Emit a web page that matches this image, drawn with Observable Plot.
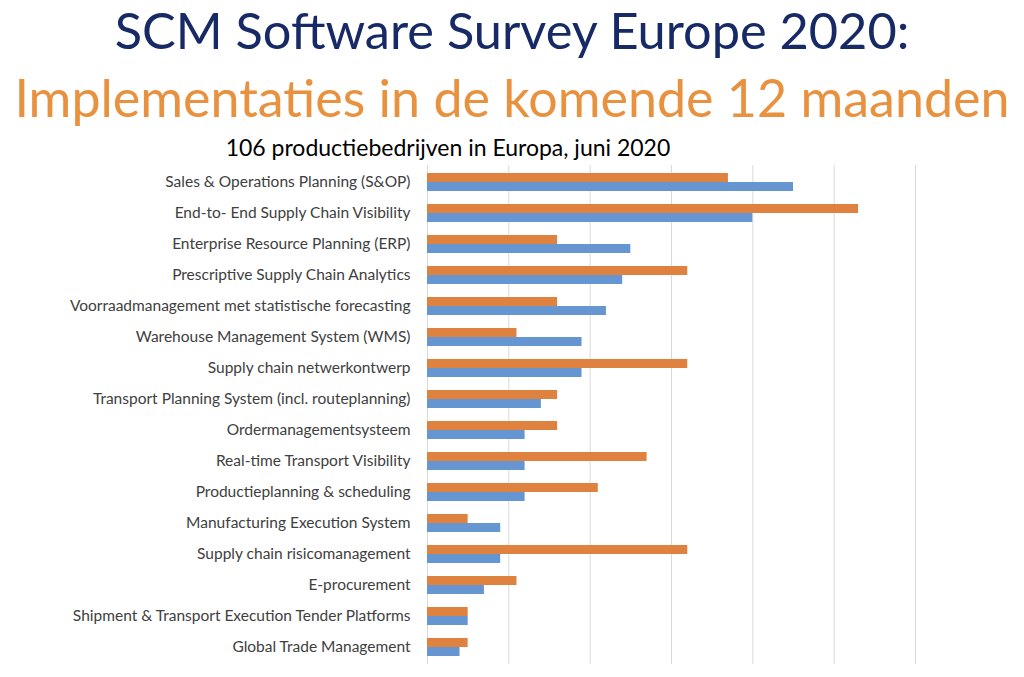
<!DOCTYPE html>
<html><head><meta charset="utf-8">
<script src="https://cdn.jsdelivr.net/npm/d3@7"></script>
<script src="https://cdn.jsdelivr.net/npm/@observablehq/plot@0.6"></script>
<style>
body{margin:0;background:#fff;font-family:Lato,sans-serif;}
#wrap{position:relative;width:1024px;height:677px;overflow:hidden;background:#fff}
.t{position:absolute;left:0;width:1024px;text-align:center;line-height:1;white-space:nowrap;font-family:Lato,sans-serif}
</style></head><body>
<div id="wrap">
<div class="t" id="t1" style="top:5px;font-size:50.5px;color:#172A66">SCM Software Survey Europe 2020:</div>
<div class="t" id="t2" style="top:71px;font-size:52px;color:#E8913F">Implementaties in de komende 12 maanden</div>
<div class="t" id="t3" style="top:136px;font-size:23px;color:#000;left:-64px">106 productiebedrijven in Europa, juni 2020</div>
<div id="chart" style="position:absolute;top:160px;left:0"></div>
</div>
<script>
const categories = [
  "Sales & Operations Planning (S&OP)",
  "End-to- End Supply Chain Visibility",
  "Enterprise Resource Planning (ERP)",
  "Prescriptive Supply Chain Analytics",
  "Voorraadmanagement met statistische forecasting",
  "Warehouse Management System (WMS)",
  "Supply chain netwerkontwerp",
  "Transport Planning System (incl. routeplanning)",
  "Ordermanagementsysteem",
  "Real-time Transport Visibility",
  "Productieplanning & scheduling",
  "Manufacturing Execution System",
  "Supply chain risicomanagement",
  "E-procurement",
  "Shipment & Transport Execution Tender Platforms",
  "Global Trade Management"
];
const seriesNames = ["Oranje", "Blauw"];
const orangeValues = [37, 53, 16, 32, 16, 11, 32, 16, 16, 27, 21, 5, 32, 11, 5, 5];
const blueValues   = [45, 40, 25, 24, 22, 19, 19, 14, 12, 12, 12, 9, 9, 7, 5, 4];
const gridTicks = [0, 10, 20, 30, 40, 50, 60];

const orangeRows = categories.map((c, i) => ({cat: c, series: seriesNames[0], value: orangeValues[i]}));
const blueRows = categories.map((c, i) => ({cat: c, series: seriesNames[1], value: blueValues[i]}));

const chart = Plot.plot({
  width: 1024,
  height: 510,
  marginLeft: 427,
  marginRight: 109,
  marginTop: 5,
  marginBottom: 6,
  x: {domain: [0, 60], axis: null},
  y: {domain: categories, paddingInner: 0.42, paddingOuter: 0.21, label: null, tickSize: 0, tickPadding: 17},
  color: {domain: seriesNames, range: ["#E0823F", "#6596D2"]},
  style: {fontFamily: "Lato, sans-serif", fontSize: "15.5px", color: "#404040", background: "#fff"},
  marks: [
    Plot.ruleX(gridTicks, {stroke: "#d9d9d9", strokeWidth: 1}),
    Plot.barX(orangeRows, {x: "value", y: "cat", fill: "series", insetBottom: 9}),
    Plot.barX(blueRows, {x: "value", y: "cat", fill: "series", insetTop: 9})
  ]
});
document.getElementById("chart").appendChild(chart);
</script>
</body></html>
